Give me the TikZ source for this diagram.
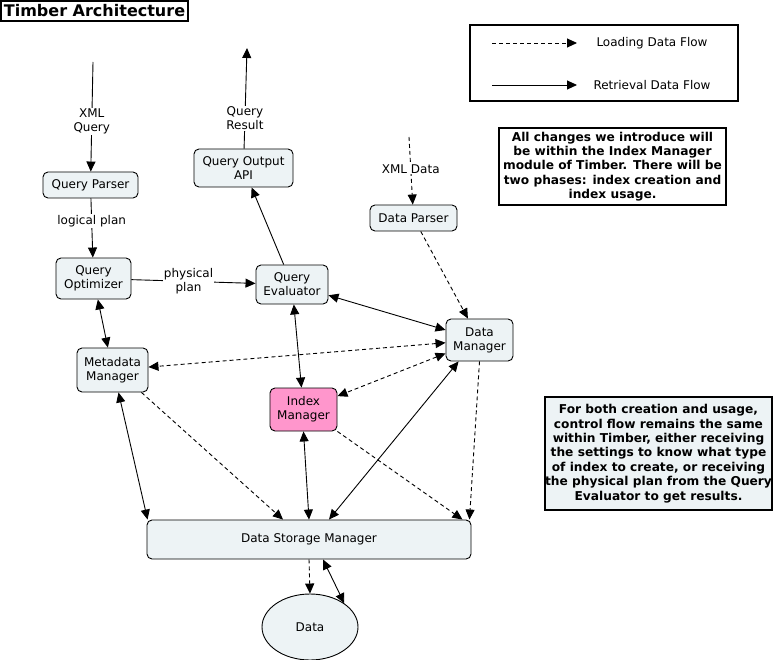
\documentclass[tikz,border=0pt]{standalone}
\usepackage{fontspec}
\setmainfont{DejaVu Sans}
\usepackage{tikz}
\usetikzlibrary{shapes.geometric, arrows.meta}
\definecolor{boxgray}{RGB}{237,243,245}
\definecolor{idxpink}{RGB}{255,150,204}
\tikzstyle{block} = [rectangle, rounded corners=5pt, draw=black, fill=boxgray, align=center, inner sep=0pt, line width=0.9pt, font=\fontsize{12}{14}\selectfont]
\tikzstyle{note} = [rectangle, draw=black, align=center, inner sep=0pt, line width=1.2pt, font=\bfseries\fontsize{12.2}{14.4}\selectfont]
\tikzstyle{edgelabel} = [fill=white, inner sep=1pt, align=center, font=\fontsize{12}{14}\selectfont]
\tikzstyle{arrow} = [line width=0.9pt,-{Triangle[length=10pt,width=9pt]}]
\tikzstyle{darrow} = [line width=0.9pt,{Triangle[length=10pt,width=9pt]}-{Triangle[length=10pt,width=9pt]}]
\tikzstyle{dasharrow} = [arrow, dash pattern=on 4pt off 3pt]
\tikzstyle{dashdarrow} = [darrow, dash pattern=on 4pt off 3pt]

\begin{document}
\begin{tikzpicture}[x=1pt, y=-1pt]
	\useasboundingbox (0,0) rectangle (778,660);
	% title and legend
	\node(title) [note, minimum width=187, minimum height=20, font=\bfseries\fontsize{16}{18}\selectfont] at (94.5,11) {Timber Architecture};
	\node(legend) [rectangle, draw=black, line width=1.2pt, minimum width=268, minimum height=76] at (604,63) {};
	\coordinate(ld_a) at (492,43);
	\coordinate(ld_b) at (577,43);
	\coordinate(lr_a) at (492,85);
	\coordinate(lr_b) at (577,85);
	\draw[dasharrow] (ld_a) -- (ld_b);
	\draw[arrow] (lr_a) -- (lr_b);
	\node(ld_text) [edgelabel, fill=none] at (652,43) {Loading Data Flow};
	\node(lr_text) [edgelabel, fill=none] at (652,85) {Retrieval Data Flow};
	
	% notes
	\node(note_changes) [note, minimum width=227, minimum height=77] at (612.5,166.5) {All changes we introduce will\\be within the Index Manager\\module of Timber. There will be\\two phases: index creation and\\index usage.};
	\node(note_flow) [note, fill=boxgray, minimum width=225, minimum height=113] at (658.5,453.5) {For both creation and usage,\\control flow remains the same\\within Timber, either receiving\\the settings to know what type\\of index to create, or receiving\\the physical plan from the Query\\Evaluator to get results.};
	
	% modules
	\node(qparser) [block, minimum width=95, minimum height=26] at (90.5,185) {Query Parser};
	\node(qopt) [block, minimum width=75, minimum height=41] at (93.5,278.5) {Query\\Optimizer};
	\node(qapi) [block, minimum width=99, minimum height=38] at (243.5,168) {Query Output\\API};
	\node(qeval) [block, minimum width=72, minimum height=39] at (292,284.5) {Query\\Evaluator};
	\node(dparser) [block, minimum width=87, minimum height=26] at (413.5,218) {Data Parser};
	\node(dmgr) [block, minimum width=67, minimum height=42] at (479.5,340) {Data\\Manager};
	\node(mdm) [block, minimum width=71, minimum height=44] at (112.5,370) {Metadata\\Manager};
	\node(idx) [block, fill=idxpink, minimum width=67, minimum height=43] at (303.5,409.5) {Index\\Manager};
	\node(dsm) [block, minimum width=324, minimum height=39] at (309,539.5) {Data Storage Manager};
	\node(data) [ellipse, draw=black, fill=boxgray, line width=0.9pt, minimum width=96, minimum height=66, inner sep=0pt, font=\fontsize{12}{14}\selectfont] at (310,627) {Data};
	
	% free ends
	\coordinate(xml_query) at (93,62);
	\coordinate(query_result) at (247,48);
	\coordinate(xml_data) at (409,137);
	
	% retrieval flow
	\draw[arrow] (xml_query) -- node[edgelabel, pos=0.545] {XML\\Query} (qparser);
	\draw[arrow] (qparser) -- node[edgelabel, pos=0.38] {logical plan} (qopt);
	\draw[arrow] (qopt) -- node[edgelabel, pos=0.46] {physical\\plan} (qeval);
	\draw[arrow] (qeval) -- (qapi);
	\draw[arrow] (qapi) -- node[edgelabel, pos=0.3] {Query\\Result} (query_result);
	\draw[darrow] (qopt) -- (mdm);
	\draw[darrow] (qeval) -- (dmgr);
	\draw[darrow] (qeval) -- (idx);
	\draw[darrow] ([shift={(6,0)}]mdm.south) -- ([shift={(1,0)}]dsm.north west);
	\draw[darrow] (idx.south) -- (dsm.north);
	\draw[darrow] ([shift={(13,0)}]dmgr.south west) -- ([shift={(20,0)}]dsm.north);
	\draw[darrow] ([shift={(14,0)}]dsm.south) -- (data.north east);
	
	% loading flow
	\draw[dasharrow] (xml_data) -- node[edgelabel, pos=0.47] {XML Data} (dparser);
	\draw[dasharrow] (dparser) -- (dmgr);
	\draw[dashdarrow] (dmgr) -- (mdm);
	\draw[dashdarrow] (dmgr) -- (idx);
	\draw[dasharrow] ([shift={(-7,0)}]mdm.south east) -- ([shift={(-26,0)}]dsm.north);
	\draw[dasharrow] (idx.south east) -- ([shift={(-9,0)}]dsm.north east);
	\draw[dasharrow] (dmgr.south) -- ([shift={(-2,0)}]dsm.north east);
	\draw[dasharrow] (dsm.south) -- (data.north);
\end{tikzpicture}
\end{document}
